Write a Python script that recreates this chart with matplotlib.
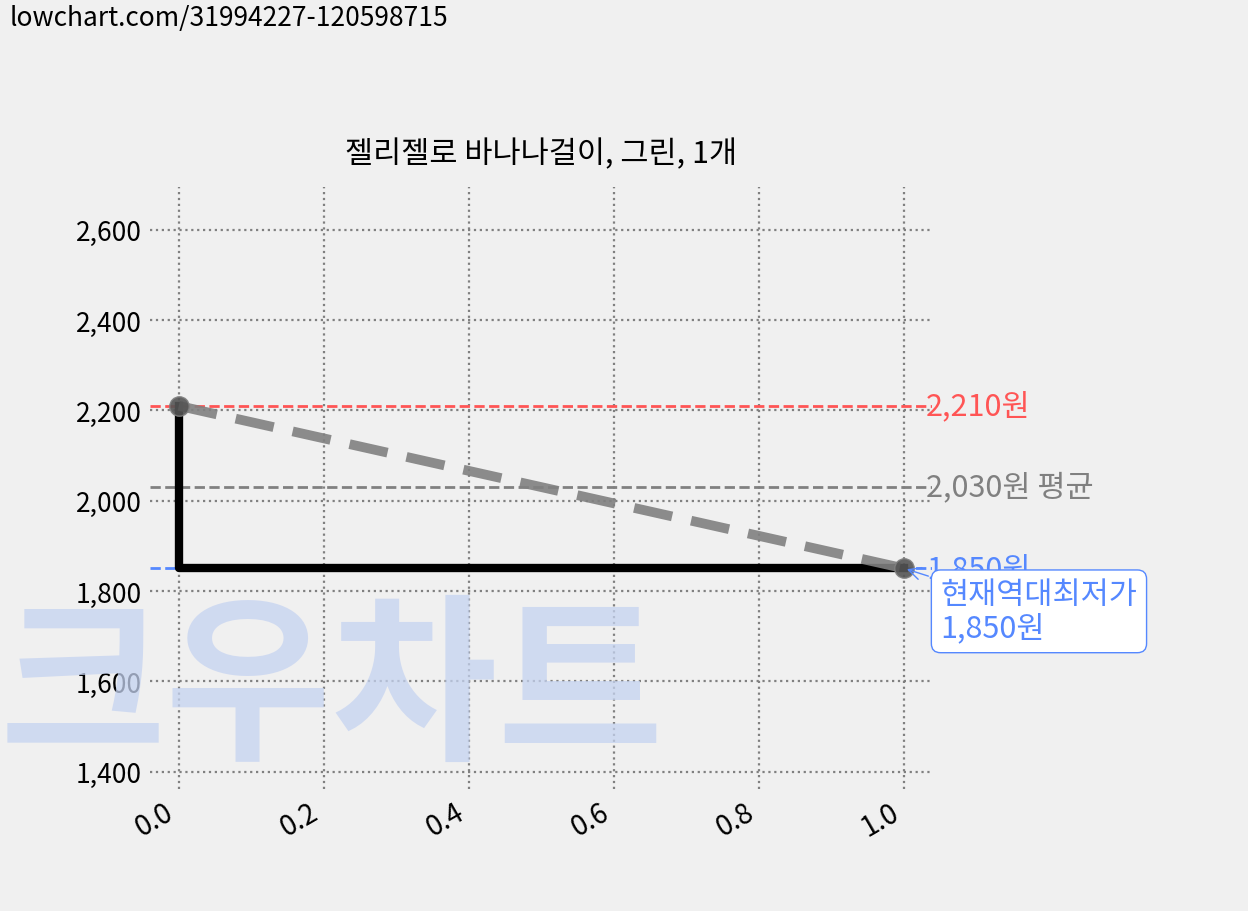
import matplotlib
matplotlib.use("Agg")
import matplotlib.pyplot as plt

plt.rcParams['font.family'] = ['Noto Sans CJK KR', 'DejaVu Sans']
plt.rcParams['font.weight'] = 'light'

x_vals = [0.0, 1.0]
prices = [2210, 1850]
max_price = 2210
avg_price = 2030
min_price = 1850
title = "젤리젤로 바나나걸이, 그린, 1개"
source = "lowchart.com/31994227-120598715"

fig = plt.figure(figsize=(12.48, 9.12), dpi=100, facecolor='#f0f0f0')
fig.text(0.0, 0.24, "크우차트", fontsize=130, fontweight='black', color='#c5d3f0',
         alpha=0.75, ha='left', va='center', zorder=0, style='italic')
ax = fig.add_axes([0.120, 0.134, 0.627, 0.660], facecolor='none')
ax.set_xlim(-0.04, 1.0386)
ax.set_ylim(1362, 2695)
for s in ax.spines.values():
    s.set_visible(False)
ax.grid(True, linestyle=':', color='gray', linewidth=1.6)
ax.tick_params(length=0, labelsize=19, pad=6)
yt = [1400, 1600, 1800, 2000, 2200, 2400, 2600]
ax.set_yticks(yt)
ax.set_yticklabels([f"{v:,}" for v in yt])
ax.set_xticks([0, 0.2, 0.4, 0.6, 0.8, 1.0])
ax.set_xticklabels(["0.0", "0.2", "0.4", "0.6", "0.8", "1.0"], rotation=30, ha='right', fontsize=20)

ax.axhline(max_price, color='#ff5555', linestyle='--', linewidth=2)
ax.axhline(avg_price, color='gray', linestyle='--', linewidth=2)
ax.axhline(min_price, color='#5588ff', linestyle='--', linewidth=2)
ax.step(x_vals, prices, where='pre', color='black', linewidth=6)
ax.plot(x_vals, prices, color='gray', linestyle='--', linewidth=7, dashes=(4, 2),
        marker='o', markersize=14, markerfacecolor='#555555', markeredgecolor='gray', alpha=0.9)

ax.text(1.03, max_price, f"{max_price:,}원", color='#ff5555', fontsize=22, va='center')
ax.text(1.03, avg_price, f"{avg_price:,}원 평균", color='gray', fontsize=22, va='center')
ax.text(1.03, min_price, f"{min_price:,}원", color='#5588ff', fontsize=22, va='center')
ax.annotate(f"현재역대최저가\n{min_price:,}원", xy=(1.0, min_price), xytext=(1.05, 1755),
            fontsize=22, color='#5588ff', va='center', ha='left', linespacing=1.1,
            bbox=dict(boxstyle='round,pad=0.3', fc='white', ec='#5588ff'),
            arrowprops=dict(arrowstyle='->', color='#5588ff'), annotation_clip=False)

ax.set_title(title, fontsize=22, pad=18)
fig.text(0.008, 0.995, source, fontsize=19, va='top', ha='left')

fig.savefig("out.png", dpi=100, facecolor=fig.get_facecolor())
